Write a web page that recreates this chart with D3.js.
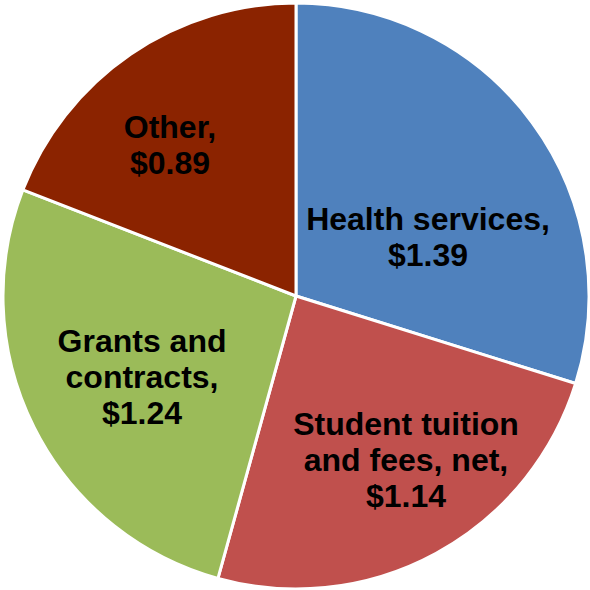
<!DOCTYPE html>
<html>
<head>
<meta charset="utf-8">
<script src="https://cdn.jsdelivr.net/npm/d3@7"></script>
<style>
  html, body { margin: 0; padding: 0; background: #fff; }
  svg text { font-family: "Liberation Sans", Arial, sans-serif; font-weight: bold; fill: #000; }
</style>
</head>
<body>
<script>
const categories = ["Health services,", "Student tuition and fees, net,", "Grants and contracts,", "Other,"];
const values = [1.39, 1.14, 1.24, 0.89];
const labelLines = [
  ["Health services,", "$1.39"],
  ["Student tuition", "and fees, net,", "$1.14"],
  ["Grants and", "contracts,", "$1.24"],
  ["Other,", "$0.89"]
];
const colors = ["#4F81BD", "#C0504D", "#9BBB59", "#8B2300"];

const width = 590, height = 590;
const cx = 296, cy = 296, radius = 293;
// label centres relative to the pie centre
const labelOffsets = [[132, -59], [110, 164], [-154, 81], [-126, -151]];
const lineHeight = 36;

const svg = d3.select("body").append("svg")
  .attr("width", width)
  .attr("height", height);

const g = svg.append("g").attr("transform", `translate(${cx},${cy})`);

const pie = d3.pie().sort(null).value(d => d);
const arc = d3.arc().innerRadius(0).outerRadius(radius);

const arcs = pie(values);

g.selectAll("path")
  .data(arcs)
  .enter()
  .append("path")
  .attr("d", arc)
  .attr("fill", (d, i) => colors[i])
  .attr("stroke", "#fff")
  .attr("stroke-width", 3)
  .attr("stroke-linejoin", "round");

const labels = g.selectAll("text.label")
  .data(arcs)
  .enter()
  .append("text")
  .attr("class", "label")
  .attr("text-anchor", "middle")
  .attr("font-size", 32)
  .attr("transform", (d, i) => `translate(${labelOffsets[i][0]},${labelOffsets[i][1]})`);

labels.each(function(d, i) {
  const lines = labelLines[i];
  const t = d3.select(this);
  lines.forEach((line, j) => {
    t.append("tspan")
      .attr("x", 0)
      .attr("y", (j - (lines.length - 1) / 2) * lineHeight)
      .attr("dy", "0.35em")
      .text(line);
  });
});
</script>
</body>
</html>
